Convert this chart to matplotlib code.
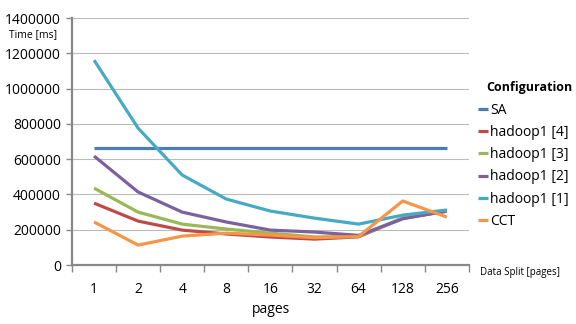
import matplotlib.pyplot as plt
import numpy as np

plt.rcParams['font.family'] = ['Open Sans', 'DejaVu Sans']

pages = ["1", "2", "4", "8", "16", "32", "64", "128", "256"]
sa = [663000, 663000, 663000, 663000, 663000, 663000, 663000, 663000, 663000]
hadoop4 = [351000, 249000, 198000, 176000, 159000, 147000, 160000, 265000, 305000]
hadoop3 = [436000, 300000, 232000, 204000, 181000, 159000, 162000, 268000, 306000]
hadoop2 = [618000, 414000, 300000, 244000, 198000, 187000, 168000, 262000, 307000]
hadoop1 = [1162000, 776000, 510000, 374000, 306000, 266000, 232000, 283000, 312000]
cct = [244000, 113000, 164000, 181000, 170000, 155000, 162000, 363000, 272000]

series = [
    ("SA", sa, "#4A7EBB"),
    ("hadoop1 [4]", hadoop4, "#BE4B48"),
    ("hadoop1 [3]", hadoop3, "#98B954"),
    ("hadoop1 [2]", hadoop2, "#7D60A0"),
    ("hadoop1 [1]", hadoop1, "#46AAC5"),
    ("CCT", cct, "#F79646"),
]

fig = plt.figure(figsize=(5.76, 3.24), dpi=100)
ax = fig.add_axes([0.125, 0.182, 0.689, 0.762])

x = np.arange(len(pages))
for name, vals, col in series:
    ax.plot(x, vals, color=col, linewidth=2.3, label=name, solid_capstyle='butt')

ax.set_xlim(-0.5, len(pages) - 0.5)
ax.set_ylim(0, 1400000)
ax.set_yticks(np.arange(0, 1400001, 200000))
ax.set_yticklabels([str(v) for v in range(0, 1400001, 200000)], fontsize=10)
ax.set_xticks(x)
ax.set_xticklabels(pages, fontsize=10)
ax.set_xticks(np.arange(-0.5, len(pages), 1), minor=True)
ax.tick_params(axis='x', which='major', length=0, pad=12)
ax.tick_params(axis='x', which='minor', length=5, color='#888888', width=1)
ax.tick_params(axis='y', length=4, color='#888888', width=1, pad=4)
ax.grid(axis='y', color='#bbbbbb', linewidth=0.8)
ax.set_axisbelow(True)
for s in ['top', 'right']:
    ax.spines[s].set_visible(False)
for s in ['left', 'bottom']:
    ax.spines[s].set_color('#888888')
    ax.spines[s].set_linewidth(1.6)

fig.text(0.015, 0.892, "Time [ms]", fontsize=7.5, va='center')
fig.text(0.833, 0.152, "Data Split [pages]", fontsize=7)
fig.text(0.47, 0.035, "pages", fontsize=10, ha='center')
fig.text(0.845, 0.731, "Configuration", fontsize=9, fontweight='bold', va='center')

leg = fig.legend(loc='upper left', bbox_to_anchor=(0.83, 0.683), frameon=False,
                 fontsize=10, handlelength=0.75, handletextpad=0.1,
                 labelspacing=0.52, borderpad=0, borderaxespad=0)

fig.savefig("out.png", dpi=100)
